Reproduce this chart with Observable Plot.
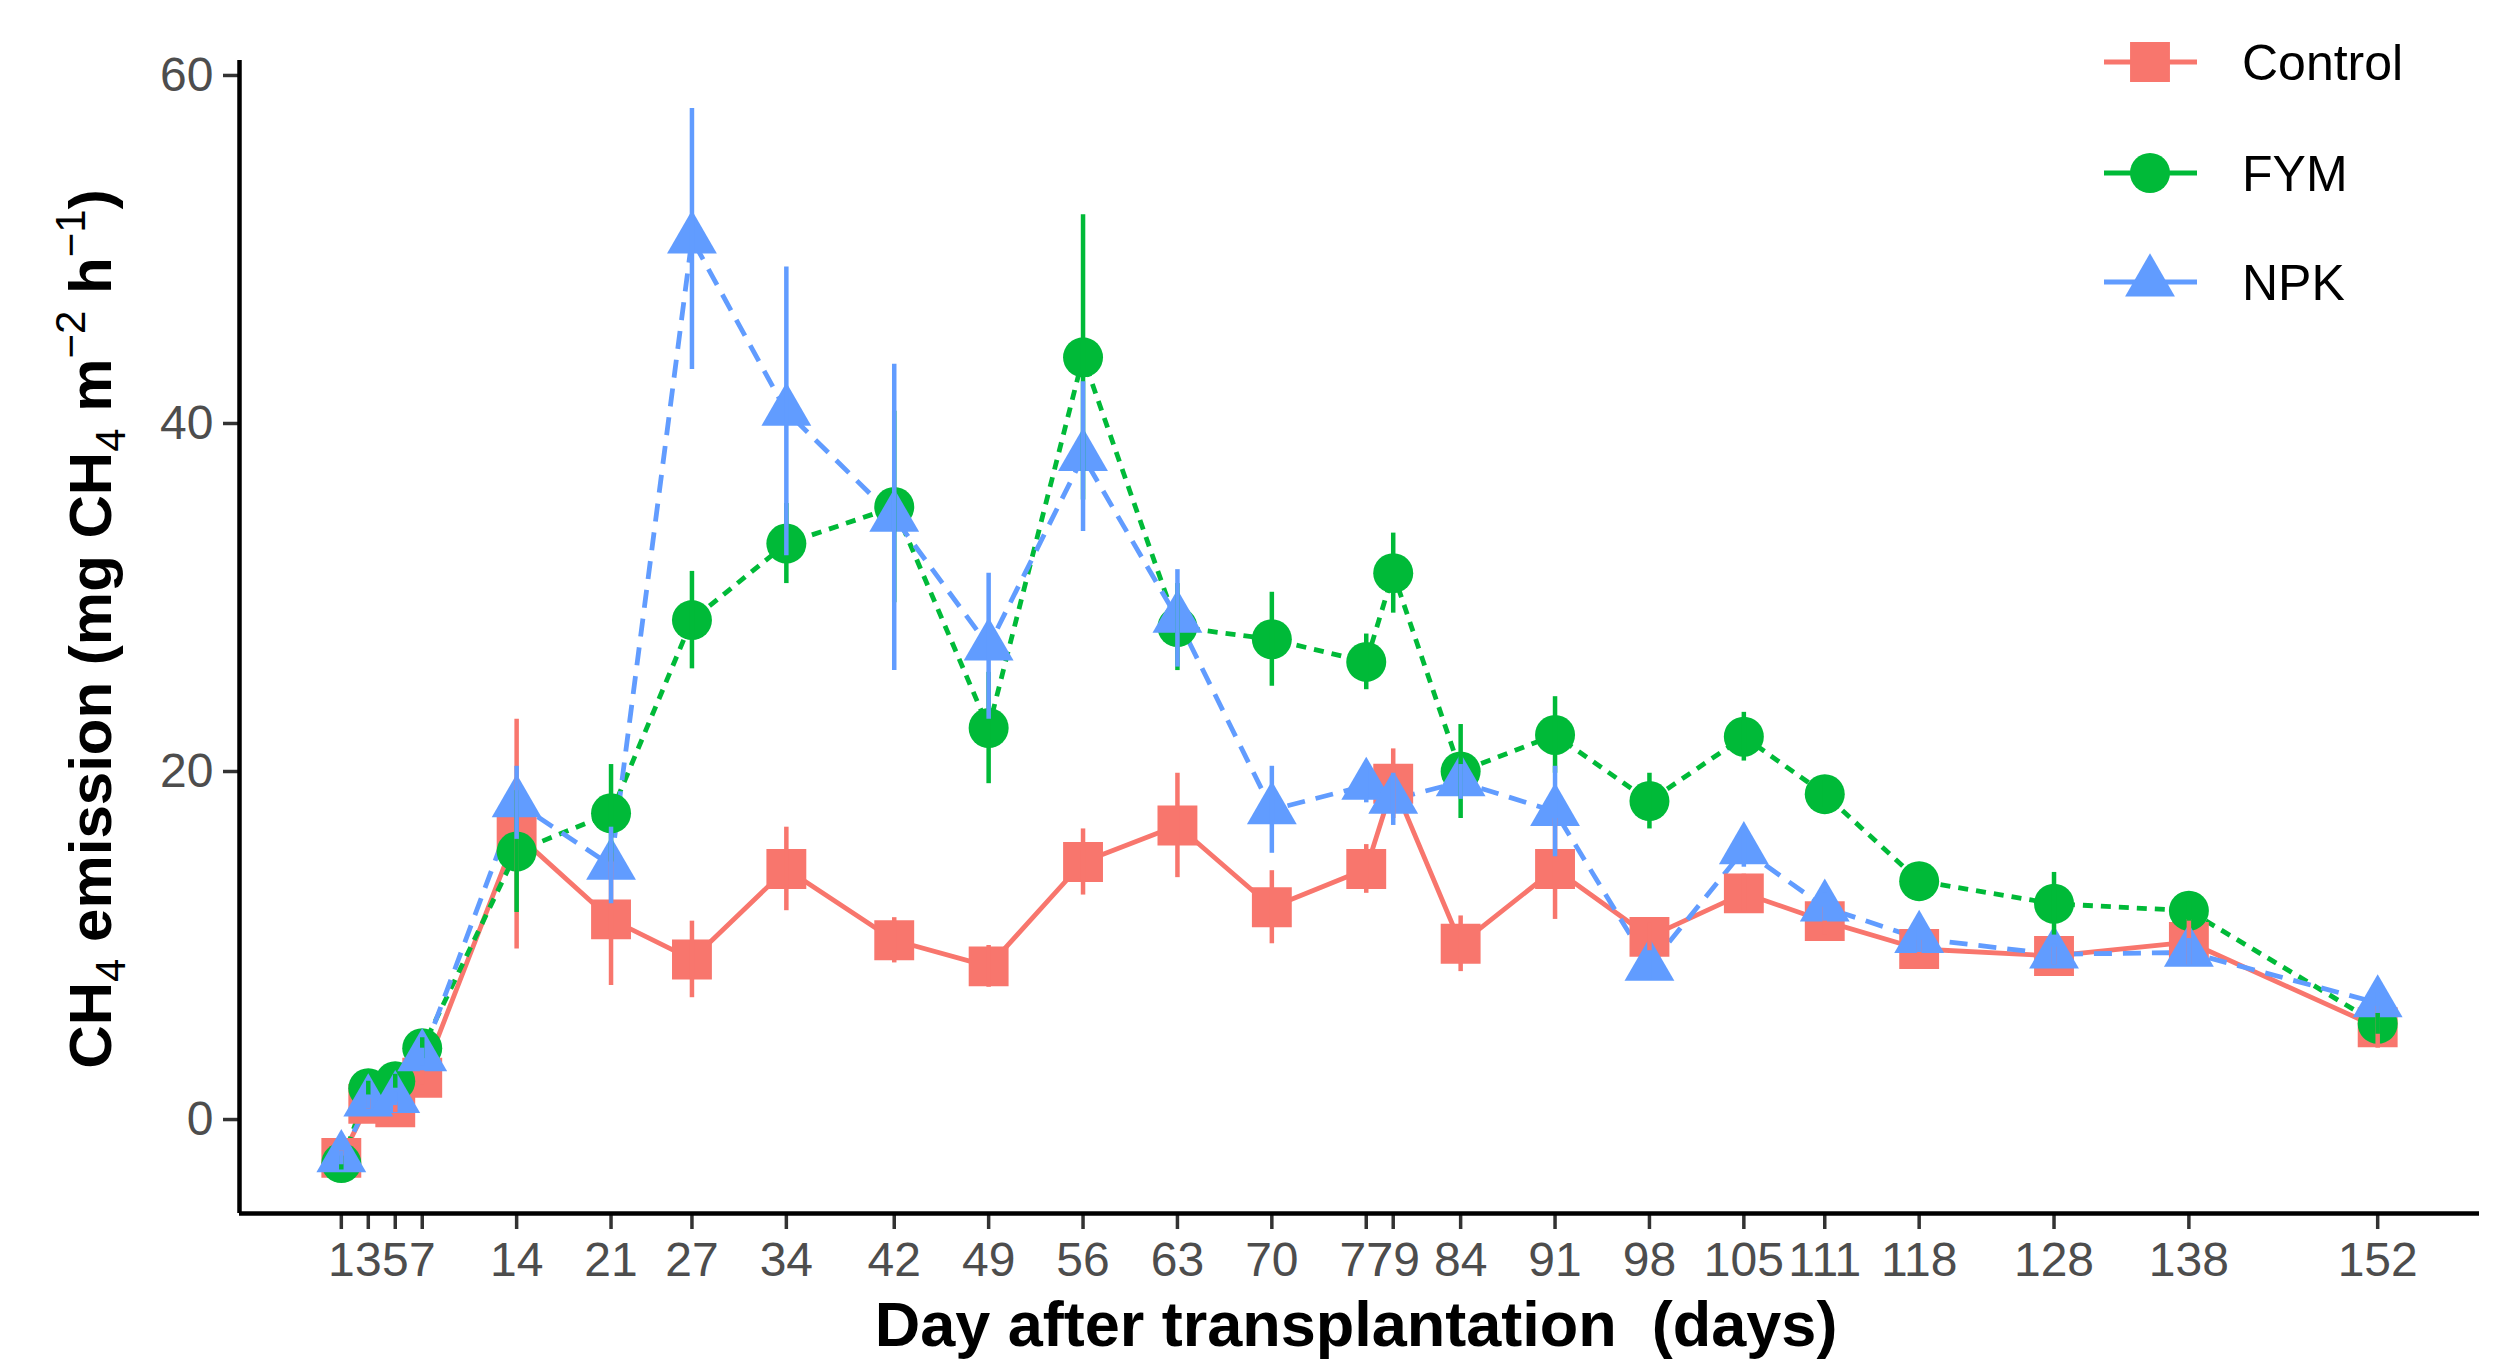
<!DOCTYPE html>
<html>
<head>
<meta charset="utf-8">
<script src="https://cdn.jsdelivr.net/npm/d3@7"></script>
<script src="https://cdn.jsdelivr.net/npm/@observablehq/plot@0.6"></script>
<style>
  html, body { margin: 0; padding: 0; background: #fff; overflow: hidden; }
  #chart svg { display: block; }
</style>
</head>
<body>
<div id="chart"></div>
<script>
// ---- data ----
const days = [1, 3, 5, 7, 14, 21, 27, 34, 42, 49, 56, 63, 70, 77, 79, 84, 91, 98, 105, 111, 118, 128, 138, 152];

const controlMean = [-2.2, 0.9, 0.7, 2.4, 16.4, 11.5, 9.2, 14.4, 10.3, 8.8, 14.8, 16.9, 12.2, 14.4, 19.3, 10.1, 14.4, 10.5, 13.0, 11.4, 9.8, 9.4, 10.2, 5.3];
const controlSE   = [0.4, 0.3, 0.3, 0.4, 6.6, 3.8, 2.2, 2.4, 1.3, 1.2, 1.9, 3.0, 2.1, 1.4, 2.0, 1.6, 2.9, 0.8, 1.1, 0.8, 0.5, 0.5, 1.3, 1.2];

const fymMean = [-2.5, 1.8, 2.2, 4.1, 15.4, 17.6, 28.7, 33.1, 35.2, 22.5, 43.8, 28.3, 27.6, 26.3, 31.4, 20.0, 22.1, 18.3, 22.0, 18.7, 13.7, 12.4, 12.0, 5.5];
const fymSE   = [0.4, 0.4, 0.4, 0.6, 3.5, 2.8, 2.8, 2.3, 5.5, 3.2, 8.2, 2.5, 2.7, 1.6, 2.3, 2.7, 2.2, 1.6, 1.4, 0.8, 0.6, 1.8, 0.6, 0.6];

const npkMean = [-2.2, 1.0, 1.2, 3.6, 18.2, 14.6, 50.6, 40.7, 34.6, 27.2, 38.1, 28.8, 17.8, 19.2, 18.4, 19.4, 17.7, 8.8, 15.5, 12.2, 10.4, 9.5, 9.6, 6.7];
const npkSE   = [0.4, 0.4, 0.4, 0.5, 2.1, 2.2, 7.5, 8.3, 8.8, 4.2, 4.3, 2.8, 2.5, 1.0, 1.5, 1.0, 2.6, 0.8, 1.0, 0.8, 0.8, 0.6, 0.8, 0.6];

const seriesNames = ["Control", "FYM", "NPK"];
const yTicks = [0, 20, 40, 60];

// ---- styles ----
const colors = { Control: "#F8766D", FYM: "#00BA38", NPK: "#619CFF" };
const symbols = { Control: "square", FYM: "circle", NPK: "triangle" };
const radii = { Control: 22.5, FYM: 20, NPK: 18.5 };
const dashes = { Control: null, FYM: "10,8", NPK: "18,11" };
const means = { Control: controlMean, FYM: fymMean, NPK: npkMean };
const ses = { Control: controlSE, FYM: fymSE, NPK: npkSE };

const xDomain = [-6.55, 159.55];
const yDomain = [-5.4, 60.86];

const tables = {};
for (const s of seriesNames) {
  tables[s] = days.map((d, i) => ({
    day: d,
    v: means[s][i],
    lo: means[s][i] - ses[s][i],
    hi: means[s][i] + ses[s][i]
  }));
}

const lineMarks = seriesNames.map(s => Plot.line(tables[s], {
  x: "day", y: "v", stroke: colors[s], strokeWidth: 4.8,
  strokeDasharray: dashes[s] || undefined, strokeLinecap: "butt", strokeLinejoin: "round"
}));
const dotMarks = seriesNames.map(s => Plot.dot(tables[s], {
  x: "day", y: "v", fill: colors[s], symbol: symbols[s], r: radii[s], stroke: "none"
}));
const barMarks = seriesNames.map(s => Plot.ruleX(tables[s], {
  x: "day", y1: "lo", y2: "hi", stroke: colors[s], strokeWidth: 4.5
}));

const chart = Plot.plot({
  width: 2496,
  height: 1366,
  marginLeft: 239,
  marginRight: 17,
  marginTop: 60,
  marginBottom: 153,
  style: { fontFamily: "Liberation Sans, Arial, sans-serif", background: "#fff" },
  x: { domain: xDomain },
  y: { domain: yDomain },
  marks: [
    Plot.axisX({ ticks: days, tickFormat: d => String(d), tickSize: 16, tickPadding: 12,
                 fontSize: 48, fill: "#4D4D4D", stroke: "#333", strokeWidth: 3.5, label: null }),
    Plot.axisY({ ticks: yTicks, tickFormat: d => String(d), tickSize: 16, tickPadding: 10,
                 fontSize: 48, fill: "#4D4D4D", stroke: "#333", strokeWidth: 3.5, label: null }),
    Plot.ruleY([yDomain[0]], { stroke: "#000", strokeWidth: 4.5 }),
    Plot.ruleX([xDomain[0]], { stroke: "#000", strokeWidth: 4.5 }),
    ...lineMarks,
    ...dotMarks,
    ...barMarks
  ]
});

document.getElementById("chart").appendChild(chart);

// ---- axis titles & legend ----
const svg = d3.select(chart);
const font = "Liberation Sans, Arial, sans-serif";

svg.append("text")
  .attr("x", 1356).attr("y", 1346)
  .attr("text-anchor", "middle")
  .attr("font-family", font).attr("font-weight", "bold").attr("font-size", 63)
  .attr("fill", "#000")
  .text("Day after transplantation\u00A0 (days)");

const yt = svg.append("text")
  .attr("transform", "translate(111,629) rotate(-90)")
  .attr("text-anchor", "middle")
  .attr("font-family", font).attr("font-weight", "bold").attr("font-size", 60)
  .attr("fill", "#000");
const parts = [
  ["CH", 0, false], ["4", 14, true], [" emission (mg CH", -14, false], ["4", 14, true],
  [" m", -14, false], ["\u22122", -26, true], [" h", 26, false], ["\u22121", -26, true], [")", 26, false]
];
for (const [t, dy, small] of parts) {
  const ts = yt.append("tspan").attr("dy", dy).text(t);
  if (small) ts.attr("font-size", 42).attr("font-weight", "normal");
}

const legendY = { Control: 62, FYM: 173, NPK: 282 };
for (const s of seriesNames) {
  const g = svg.append("g");
  const y = legendY[s];
  g.append("line").attr("x1", 2104).attr("x2", 2197).attr("y1", y).attr("y2", y)
    .attr("stroke", colors[s]).attr("stroke-width", 4.8);
  const sym = { square: d3.symbolSquare, circle: d3.symbolCircle, triangle: d3.symbolTriangle }[symbols[s]];
  g.append("path")
    .attr("d", d3.symbol(sym, Math.PI * radii[s] * radii[s])())
    .attr("transform", `translate(2150,${y})`)
    .attr("fill", colors[s]);
  g.append("text").attr("x", 2242).attr("y", y + 18)
    .attr("text-anchor", "start")
    .attr("font-family", font).attr("font-size", 50).attr("fill", "#000")
    .text(s);
}
</script>
</body>
</html>
